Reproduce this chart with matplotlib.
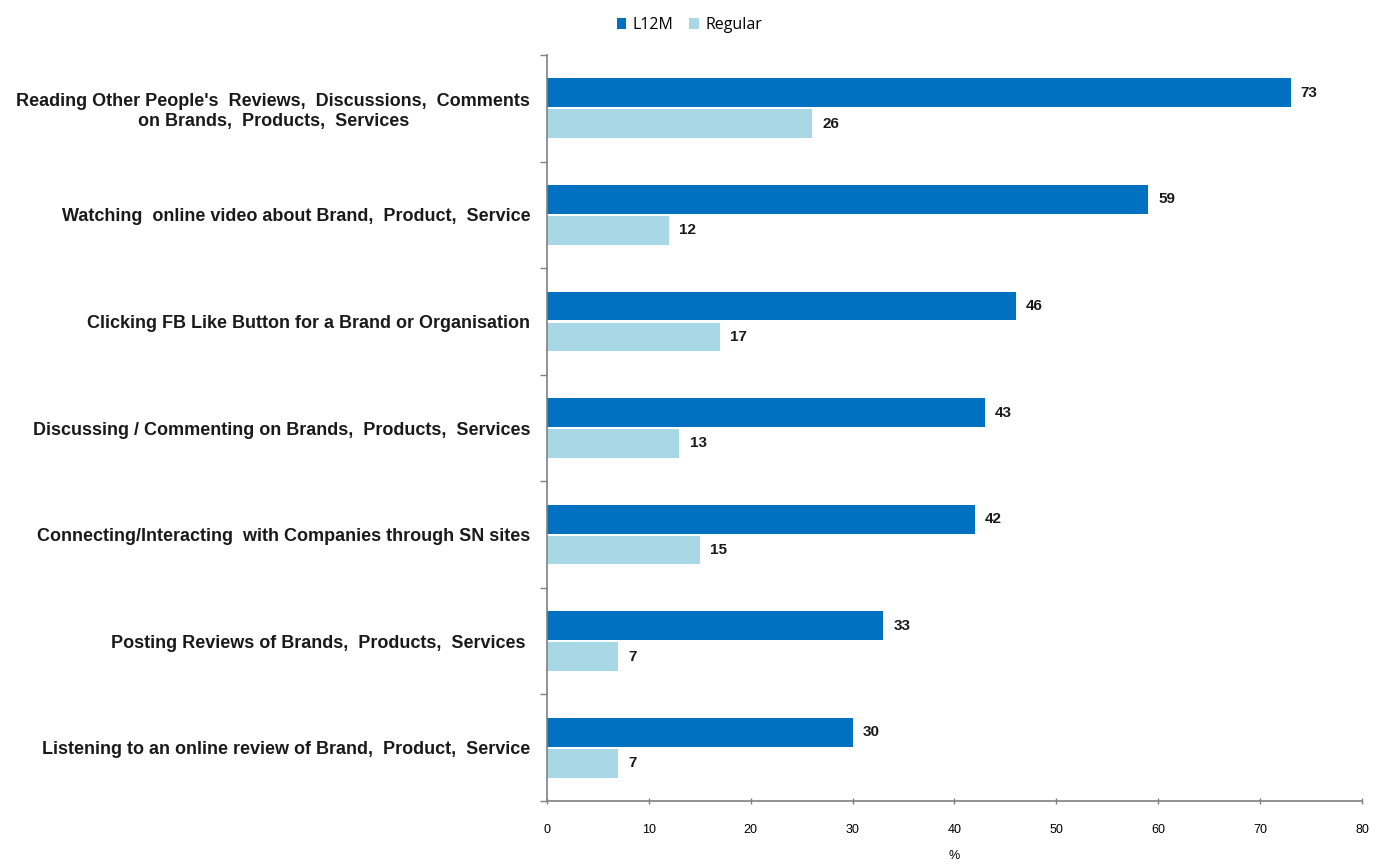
import matplotlib
matplotlib.use("Agg")
import matplotlib.pyplot as plt
import numpy as np

categories = [
    "Reading Other People's  Reviews,  Discussions,  Comments\non Brands,  Products,  Services",
    "Watching  online video about Brand,  Product,  Service",
    "Clicking FB Like Button for a Brand or Organisation",
    "Discussing / Commenting on Brands,  Products,  Services",
    "Connecting/Interacting  with Companies through SN sites",
    "Posting Reviews of Brands,  Products,  Services ",
    "Listening to an online review of Brand,  Product,  Service",
]
l12m = [73, 59, 46, 43, 42, 33, 30]
regular = [26, 12, 17, 13, 15, 7, 7]
series_names = ["L12M", "Regular"]
xticks = [0, 10, 20, 30, 40, 50, 60, 70, 80]

c_dark = "#0070C0"
c_light = "#A8D8E5"

fig = plt.figure(figsize=(13.83, 8.68), dpi=100)
ax = fig.add_axes([0.3955, 0.0772, 0.5893, 0.8594])

n = len(categories)
y = np.arange(n)
h = 0.27
off = 0.145
b1 = ax.barh(y - off, l12m, height=h, color=c_dark, label=series_names[0])
b2 = ax.barh(y + off, regular, height=h, color=c_light, label=series_names[1])

for bars, vals in ((b1, l12m), (b2, regular)):
    for rect, v in zip(bars, vals):
        ax.text(rect.get_width() + 1.0, rect.get_y() + rect.get_height() / 2, f"{v}",
                va="center", ha="left", fontsize=11, fontweight="bold",
                family="Liberation Sans", color="#1a1a1a")

ax.set_ylim(n - 0.5, -0.5)
ax.set_xlim(0, 80)
ax.set_yticks(y)
ax.set_yticklabels(categories, fontsize=13, fontweight="bold", family="Liberation Sans",
                   ha="right", multialignment="center", color="#1a1a1a", linespacing=1.2)
ax.tick_params(axis="y", which="major", length=0, pad=12)
ax.set_yticks(np.arange(-0.5, n + 0.5, 1.0), minor=True)
ax.tick_params(axis="y", which="minor", length=5, color="#808080", width=1)

ax.set_xticks(xticks)
ax.set_xticklabels([str(t) for t in xticks], fontsize=9,
                   family=["Liberation Sans Narrow", "Liberation Sans"])
ax.tick_params(axis="x", length=5, direction="inout", color="#808080", width=1, pad=14)
ax.set_xlabel("%", fontsize=9, family="Liberation Sans", labelpad=10)

for s in ("top", "right"):
    ax.spines[s].set_visible(False)
for s in ("left", "bottom"):
    ax.spines[s].set_color("#808080")
    ax.spines[s].set_linewidth(1.2)

leg = fig.legend(handles=[b1, b2], labels=series_names, loc="center", bbox_to_anchor=(0.4985, 0.971),
                 ncol=2, frameon=False, prop={"family": "Open Sans", "size": 11.5},
                 handlelength=0.6, handleheight=0.6, handletextpad=0.4, columnspacing=1.0)

fig.savefig("out.png", dpi=100)
